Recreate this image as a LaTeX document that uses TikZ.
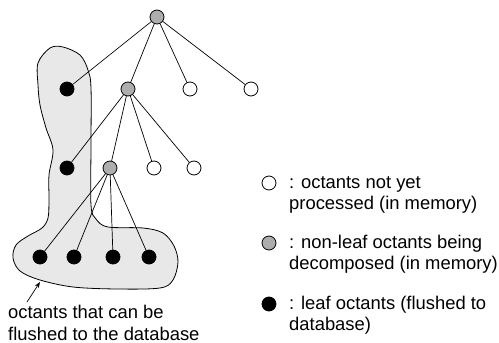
\documentclass[tikz,border=0pt]{standalone}
\usepackage{fontspec}
\setmainfont{Liberation Sans}
\usetikzlibrary{arrows.meta}
\begin{document}
\begin{tikzpicture}[x=1pt, y=-1pt, line join=round, line cap=round, >={Stealth[length=6pt,width=4.5pt]},
		oct/.style={circle, draw, line width=0.8pt, minimum size=14pt, inner sep=0pt},
		open/.style={oct, fill=white},
		busy/.style={oct, fill=black!32},
		leaf/.style={oct, fill=black},
		note/.style={align=left, inner sep=0pt, anchor=base west, font=\fontsize{18.4}{21.5}\selectfont}]
	\useasboundingbox (0,0) rectangle (499,343);
	% octants that can be flushed
	\draw[line width=0.8pt, fill=black!9] plot[smooth cycle, tension=0.55] coordinates {
		(50,48) (63,47) (80,55) (88,70) (91,88) (91,145) (91,205) (96,219) (108,227) (143,228)
		(163,233) (174,246) (178,262) (173,280) (160,288) (117,289) (73,287) (40,280) (20,271)
		(13,258) (16,245) (28,236) (42,228) (48,218) (49,200) (49,175) (53,150) (46,128)
		(40,105) (38,85) (38,63)};
	% octree
	\node[busy] (r) at (157,17) {};
	\node[leaf] (l1) at (67,89) {};
	\node[busy] (g1) at (128,89) {};
	\node[open] (o1) at (190,89) {};
	\node[open] (o2) at (251,89) {};
	\node[leaf] (l2) at (67,168) {};
	\node[busy] (g2) at (110,168) {};
	\node[open] (o3) at (154,168) {};
	\node[open] (o4) at (194,168) {};
	\foreach \i/\x in {1/40,2/74,3/113,4/149}
		\node[leaf] (d\i) at (\x,257) {};
	\foreach \c in {l1,g1,o1,o2} \draw[line width=0.7pt] (r) -- (\c);
	\foreach \c in {l2,g2,o3,o4} \draw[line width=0.7pt] (g1) -- (\c);
	\foreach \c in {d1,d2,d3,d4} \draw[line width=0.7pt] (g2) -- (\c);
	% pointer to the flushed region
	\coordinate (tail) at (27,302);
	\coordinate (tip) at (40,282);
	\draw[->, line width=0.7pt] (tail) -- (tip);
	% multi-line notes sit on the baseline of their last line
	\node[note] (flush) at (8,340) {octants that can be\\flushed to the database};
	% legend
	\node[open] (k1) at (269,183) {};
	\node[note] (t1) at (289,209.5) {: octants not yet\\processed (in memory)};
	\node[busy] (k2) at (269,243) {};
	\node[note] (t2) at (289,269.5) {: non-leaf octants being\\decomposed (in memory)};
	\node[leaf] (k3) at (269,304) {};
	\node[note] (t3) at (289,330.5) {: leaf octants (flushed to\\database)};
\end{tikzpicture}
\end{document}
